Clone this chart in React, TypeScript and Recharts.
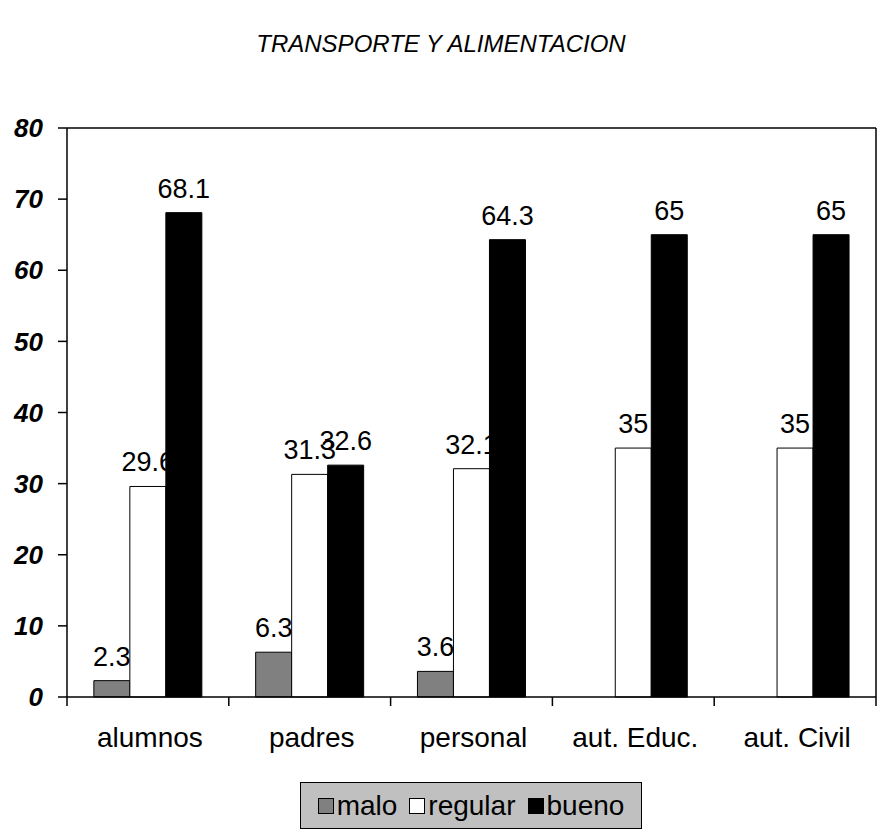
import React from "react";
import { Bar, BarChart, LabelList, ReferenceLine, XAxis, YAxis } from "recharts";

const categories = ["alumnos", "padres", "personal", "aut. Educ.", "aut. Civil"];
const malo = [2.3, 6.3, 3.6, null, null];
const regular = [29.6, 31.3, 32.1, 35, 35];
const bueno = [68.1, 32.6, 64.3, 65, 65];
const yTicks = [0, 10, 20, 30, 40, 50, 60, 70, 80];

const data = categories.map((name, i) => ({
  name,
  malo: malo[i],
  regular: regular[i],
  bueno: bueno[i],
}));

const FONT = "'Liberation Sans', Arial, sans-serif";
const PLOT_LEFT = 67;
const PLOT_RIGHT = 876;
const BAND = (PLOT_RIGHT - PLOT_LEFT) / categories.length;

const fmt = (v: any) => (v == null ? "" : String(v));

function CategoryTick(props: any) {
  const { x, y, payload, index } = props;
  const half = BAND / 2;
  return (
    <g>
      <line x1={x - half} x2={x - half} y1={y} y2={y + 9} stroke="#000" strokeWidth={1.5} />
      {index === categories.length - 1 && (
        <line x1={x + half} x2={x + half} y1={y} y2={y + 9} stroke="#000" strokeWidth={1.5} />
      )}
      <text x={x + 2} y={y + 50} textAnchor="middle" fontSize={28} fontFamily={FONT} fill="#000">
        {payload.value}
      </text>
    </g>
  );
}

function LegendBox() {
  const items = [
    { label: "malo", fill: "#808080" },
    { label: "regular", fill: "#ffffff" },
    { label: "bueno", fill: "#000000" },
  ];
  return (
    <div
      style={{
        position: "absolute",
        left: 300,
        top: 782,
        width: 342,
        height: 47,
        boxSizing: "border-box",
        border: "1.5px solid #000",
        background: "#c0c0c0",
        display: "flex",
        alignItems: "center",
        justifyContent: "center",
        gap: 12,
        fontFamily: FONT,
        fontSize: 28,
        color: "#000",
      }}
    >
      {items.map((it) => (
        <div key={it.label} style={{ display: "flex", alignItems: "center", gap: 3 }}>
          <span
            style={{
              display: "inline-block",
              width: 14,
              height: 14,
              background: it.fill,
              border: "1px solid #000",
            }}
          />
          <span>{it.label}</span>
        </div>
      ))}
    </div>
  );
}

export default function App() {
  return (
    <div style={{ position: "absolute", left: 0, top: 0, width: 891, height: 834, background: "#fff" }}>
      <div
        style={{
          position: "absolute",
          left: 0,
          width: 882,
          top: 30,
          textAlign: "center",
          fontFamily: FONT,
          fontStyle: "italic",
          fontSize: 24,
          color: "#000",
        }}
      >
        TRANSPORTE Y ALIMENTACION
      </div>
      <BarChart
        width={891}
        height={834}
        data={data}
        margin={{ top: 128, right: 0, left: 0, bottom: 0 }}
        barCategoryGap="16.6%"
        barGap={0}
      >
        <XAxis
          dataKey="name"
          height={137}
          axisLine={{ stroke: "#000", strokeWidth: 1.5 }}
          tickLine={false}
          tickSize={0}
          tickMargin={0}
          tick={<CategoryTick />}
          interval={0}
        />
        <YAxis
          width={67}
          domain={[0, 80]}
          ticks={yTicks}
          interval={0}
          axisLine={{ stroke: "#000", strokeWidth: 1.5 }}
          tickLine={{ stroke: "#000", strokeWidth: 1.5 }}
          tickSize={9}
          tickMargin={15}
          tick={{ fontFamily: FONT, fontSize: 26, fontWeight: "bold", fontStyle: "italic", fill: "#000" }}
        />
        <YAxis
          yAxisId="r"
          orientation="right"
          width={15}
          domain={[0, 80]}
          tick={false}
          tickLine={false}
          axisLine={{ stroke: "#000", strokeWidth: 1.5 }}
        />
        <ReferenceLine y={80} stroke="#000" strokeWidth={1.5} />
        <Bar dataKey="malo" fill="#808080" stroke="#000" strokeWidth={1} isAnimationActive={false}>
          <LabelList dataKey="malo" position="top" offset={15} formatter={fmt} fontSize={27} fontFamily={FONT} fill="#000" />
        </Bar>
        <Bar dataKey="regular" fill="#ffffff" stroke="#000" strokeWidth={1} isAnimationActive={false}>
          <LabelList dataKey="regular" position="top" offset={15} formatter={fmt} fontSize={27} fontFamily={FONT} fill="#000" />
        </Bar>
        <Bar dataKey="bueno" fill="#000000" stroke="#000" strokeWidth={1} isAnimationActive={false}>
          <LabelList dataKey="bueno" position="top" offset={15} formatter={fmt} fontSize={27} fontFamily={FONT} fill="#000" />
        </Bar>
      </BarChart>
      <LegendBox />
    </div>
  );
}
